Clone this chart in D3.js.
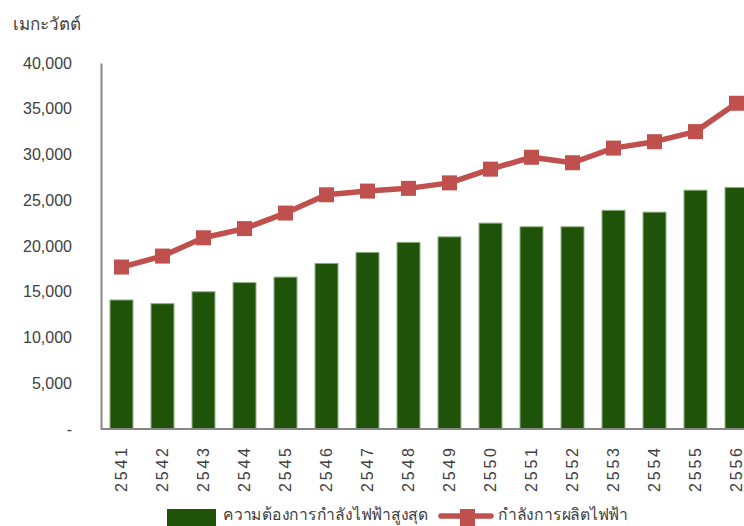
<!DOCTYPE html>
<html><head><meta charset="utf-8">
<script src="https://cdn.jsdelivr.net/npm/d3@7/dist/d3.min.js"></script>
<style>
html,body{margin:0;padding:0;background:#fff;overflow:hidden;}
text{font-family:"Liberation Sans",Arial,sans-serif;fill:#404040;}
</style></head>
<body><svg id="c" width="744" height="526"></svg>
<script>
const years = ["2541","2542","2543","2544","2545","2546","2547","2548","2549","2550","2551","2552","2553","2554","2555","2556"];
const peakDemand = [14100,13700,15000,16000,16600,18100,19300,20400,21000,22500,22100,22100,23900,23700,26100,26400];
const capacity = [17700,18900,20900,21900,23600,25600,26000,26300,26900,28400,29700,29100,30700,31400,32500,35600];
const yTicks = [0,5000,10000,15000,20000,25000,30000,35000,40000];
const unitLabel = "เมกะวัตต์";
const barName = "ความต้องการกำลังไฟฟ้าสูงสุด";
const lineName = "กำลังการผลิตไฟฟ้า";

const svg = d3.select("#c");
const x = d3.scaleBand().domain(years).range([101, 757]).paddingInner(0.44).paddingOuter(0.22);
const y = d3.scaleLinear().domain([0, 40000]).range([429, 63]);

// bars
svg.append("g").selectAll("rect").data(years).join("rect")
  .attr("x", d => x(d)).attr("width", x.bandwidth())
  .attr("y", (d,i) => y(peakDemand[i])).attr("height", (d,i) => y(0) - y(peakDemand[i]))
  .attr("fill", "#1e5309").attr("stroke", "#8fae80").attr("stroke-width", 1);

// y axis
const yAxis = svg.append("g").attr("transform", "translate(101,0)")
  .call(d3.axisLeft(y).tickValues(yTicks).tickSize(0).tickPadding(29)
    .tickFormat(d => d === 0 ? "-" : d3.format(",")(d)));
yAxis.select(".domain").attr("stroke", "#868686").attr("stroke-width", 2);
yAxis.selectAll("text").style("font-size", "16px").attr("fill", "#404040");

// x axis
const xAxis = svg.append("g").attr("transform", "translate(0,429)")
  .call(d3.axisBottom(x).tickSize(0).tickSizeOuter(0));
xAxis.select(".domain").attr("stroke", "#868686").attr("stroke-width", 2).attr("d", "M101,0H744");
xAxis.selectAll("text").style("font-size", "16px").attr("fill", "#404040")
  .attr("transform", "rotate(-90)").attr("text-anchor", "end")
  .attr("x", -19).attr("y", 0).attr("dy", "0.35em")
  .attr("textLength", 44).attr("lengthAdjust", "spacing");

// line
const line = d3.line().x((d,i) => x(years[i]) + x.bandwidth()/2).y(d => y(d));
svg.append("path").datum(capacity).attr("d", line)
  .attr("fill", "none").attr("stroke", "#c0504d").attr("stroke-width", 5.5).attr("stroke-linejoin", "round");
svg.append("g").selectAll("rect").data(capacity).join("rect")
  .attr("x", (d,i) => x(years[i]) + x.bandwidth()/2 - 7.5).attr("y", d => y(d) - 7.5)
  .attr("width", 15).attr("height", 15).attr("fill", "#c0504d");

// unit label
svg.append("text").attr("x", 13).attr("y", 30).text(unitLabel).style("font-size", "17px")
  .attr("textLength", 68).attr("lengthAdjust", "spacingAndGlyphs");

// legend
const lg = svg.append("g");
lg.append("rect").attr("x", 167).attr("y", 509).attr("width", 49).attr("height", 18).attr("fill", "#1e5309");
lg.append("text").attr("x", 223).attr("y", 520).text(barName).style("font-size", "16px")
  .attr("textLength", 205).attr("lengthAdjust", "spacingAndGlyphs");
lg.append("line").attr("x1", 441).attr("x2", 491).attr("y1", 516).attr("y2", 516).attr("stroke", "#c0504d").attr("stroke-width", 5.5).attr("stroke-linecap", "round");
lg.append("rect").attr("x", 460).attr("y", 509).attr("width", 15).attr("height", 17).attr("fill", "#c0504d");
lg.append("text").attr("x", 498).attr("y", 520).text(lineName).style("font-size", "16px")
  .attr("textLength", 130).attr("lengthAdjust", "spacingAndGlyphs");
</script></body></html>
